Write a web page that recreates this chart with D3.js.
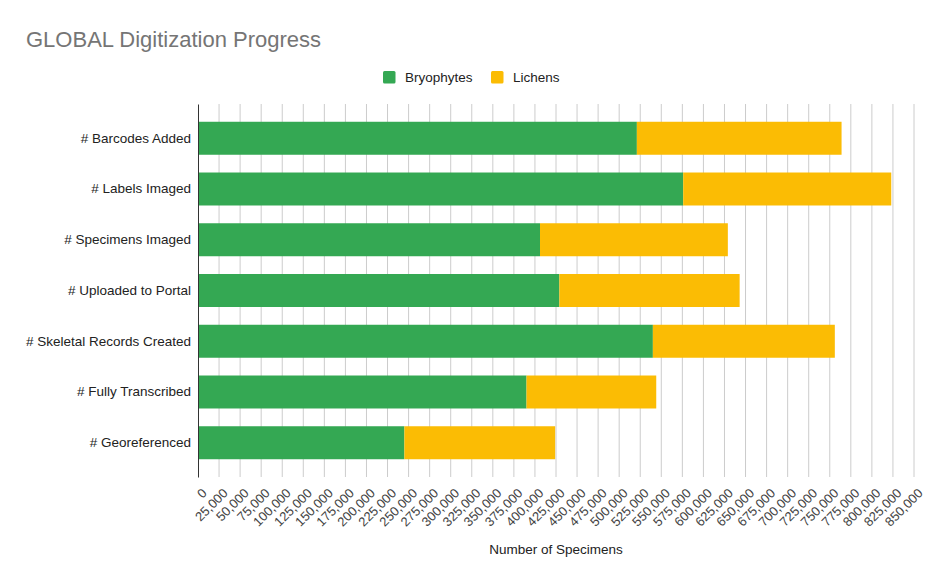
<!DOCTYPE html>
<html>
<head>
<meta charset="utf-8">
<script src="https://cdn.jsdelivr.net/npm/d3@7"></script>
<style>
  body { margin: 0; background: #fff; }
  text { font-family: "Liberation Sans", Arial, sans-serif; }
</style>
</head>
<body>
<div id="chart"></div>
<script>
// Data
const categories = [
    "# Barcodes Added",
    "# Labels Imaged",
    "# Specimens Imaged",
    "# Uploaded to Portal",
    "# Skeletal Records Created",
    "# Fully Transcribed",
    "# Georeferenced"
];
const bryophytes = [521000, 576000, 406000, 429000, 540000, 390000, 245000];
const lichens = [243000, 247000, 223000, 214000, 216000, 154000, 179000];
const seriesNames = ["Bryophytes", "Lichens"];
const seriesColors = ["#34a853", "#fbbc04"];
const xTicks = d3.range(0, 850001, 25000);

const W = 943, H = 581;
const margin = { top: 104, right: 29, bottom: 104, left: 198 };
const width = W - margin.left - margin.right,
    height = H - margin.top - margin.bottom;
const fontSize = 13.5;

const svg = d3.select("#chart")
    .append("svg")
    .attr("width", W)
    .attr("height", H);

// Title
svg.append("text")
    .attr("x", 26)
    .attr("y", 47)
    .attr("font-size", 22)
    .attr("fill", "#757575")
    .text("GLOBAL Digitization Progress");

// Legend
const legend = svg.append("g").attr("transform", "translate(383,71)");
const legendX = [0, 108];
seriesNames.forEach((name, i) => {
    const g = legend.append("g").attr("transform", "translate(" + legendX[i] + ",0)");
    g.append("rect")
        .attr("width", 12.5)
        .attr("height", 12.5)
        .attr("rx", 1.5)
        .attr("fill", seriesColors[i]);
    g.append("text")
        .attr("x", 22)
        .attr("y", 11)
        .attr("font-size", fontSize)
        .attr("fill", "#222")
        .text(name);
});

const plot = svg.append("g")
    .attr("transform", "translate(" + margin.left + "," + margin.top + ")");

// Scales
const x = d3.scaleLinear().domain([0, 850000]).range([0, width]);
const y = d3.scaleBand().domain(categories).range([0, height]).padding(0.35);

// Gridlines
plot.append("g")
    .selectAll("line")
    .data(xTicks.slice(1))
    .enter()
    .append("line")
    .attr("x1", (d) => x(d))
    .attr("x2", (d) => x(d))
    .attr("y1", 0)
    .attr("y2", height)
    .attr("stroke", "#cccccc")
    .attr("stroke-width", 1);

// Stacked bars
const rows = categories.map((c, i) => ({ cat: c, Bryophytes: bryophytes[i], Lichens: lichens[i] }));
const stacked = d3.stack().keys(seriesNames)(rows);

plot.append("g")
    .selectAll("g")
    .data(stacked)
    .enter()
    .append("g")
    .attr("fill", (d, i) => seriesColors[i])
    .selectAll("rect")
    .data((d) => d)
    .enter()
    .append("rect")
    .attr("x", (d) => x(d[0]))
    .attr("y", (d) => y(d.data.cat))
    .attr("width", (d) => x(d[1]) - x(d[0]))
    .attr("height", y.bandwidth());

// Y axis
const yAxis = plot.append("g")
    .call(d3.axisLeft(y).tickSize(0).tickPadding(7));
yAxis.select(".domain").attr("stroke", "#333").attr("stroke-width", 1);
yAxis.selectAll("text")
    .attr("font-size", fontSize)
    .attr("fill", "#222")
    .style("font-family", "'Liberation Sans', Arial, sans-serif");

// X axis tick labels (rotated)
const xAxis = plot.append("g")
    .attr("transform", "translate(0," + height + ")")
    .call(d3.axisBottom(x).tickValues(xTicks).tickFormat(d3.format(",")).tickSize(0));
xAxis.select(".domain").remove();
xAxis.selectAll("text")
    .attr("font-size", 13)
    .attr("fill", "#444")
    .style("font-family", "'Liberation Sans', Arial, sans-serif")
    .attr("text-anchor", "end")
    .attr("dy", null)
    .attr("y", 0)
    .attr("transform", "translate(9,17) rotate(-45)");

// X axis title
svg.append("text")
    .attr("x", margin.left + width / 2)
    .attr("y", 554)
    .attr("text-anchor", "middle")
    .attr("font-size", fontSize)
    .attr("fill", "#222")
    .text("Number of Specimens");
</script>
</body>
</html>
